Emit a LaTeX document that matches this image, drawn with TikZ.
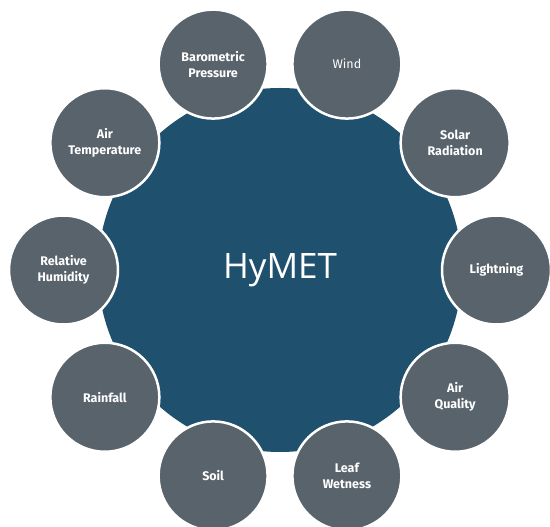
\documentclass[tikz,border=0pt]{standalone}
\usepackage{fontspec}
\newfontfamily\hubfont{Open Sans}
\newfontfamily\satfont{Fira Sans}
\definecolor{hubblue}{HTML}{1F506E}
\definecolor{satgray}{HTML}{59636C}
\tikzset{
	hub/.style={circle, fill=hubblue, minimum size=364pt, inner sep=0pt, text=white, font=\hubfont\fontsize{35}{40}\selectfont},
	sat/.style={circle, fill=satgray, draw=white, line width=2.5pt, minimum size=109pt, inner sep=0pt, text=white, align=center, font=\satfont\bfseries\fontsize{12.5}{16}\selectfont}
}

\begin{document}
\begin{tikzpicture}[x=1pt,y=1pt]
	\useasboundingbox (0,0) rectangle (550,527);
	%centre
		\node[hub] (hymet) at (280,257) {HyMET};
	%sensors round the centre
		\node[sat] (lightning) at ([shift={(0:216.5)}]hymet.center) {Lightning};
		\node[sat] (solar) at ([shift={(36:216.5)}]hymet.center) {Solar\\Radiation};
		\node[sat, font=\satfont\fontsize{12.5}{16}\selectfont] (wind) at ([shift={(72:216.5)}]hymet.center) {Wind};
		\node[sat] (pressure) at ([shift={(108:216.5)}]hymet.center) {Barometric\\Pressure};
		\node[sat] (airtemp) at ([shift={(144:216.5)}]hymet.center) {Air\\Temperature};
		\node[sat] (humidity) at ([shift={(180:216.5)}]hymet.center) {Relative\\Humidity};
		\node[sat] (rainfall) at ([shift={(216:216.5)}]hymet.center) {Rainfall};
		\node[sat] (soil) at ([shift={(252:216.5)}]hymet.center) {Soil};
		\node[sat] (leaf) at ([shift={(288:216.5)}]hymet.center) {Leaf\\Wetness};
		\node[sat] (airquality) at ([shift={(324:216.5)}]hymet.center) {Air\\Quality};
\end{tikzpicture}
\end{document}
